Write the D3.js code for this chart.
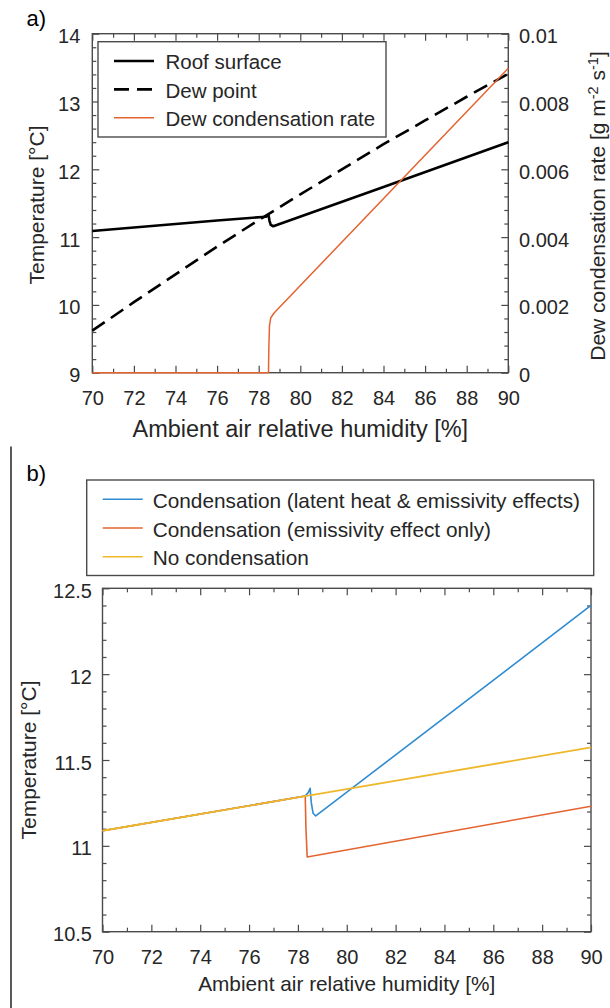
<!DOCTYPE html>
<html><head><meta charset="utf-8">
<script src="https://cdn.jsdelivr.net/npm/d3@7"></script>
<style>body{margin:0;background:#fff}svg{display:block}</style>
</head><body>
<script>
// ---------- data ----------
const rhTicks = [70,72,74,76,78,80,82,84,86,88,90];
const rhMinor = [71,73,75,77,79,81,83,85,87,89];
const tempTicksA = [9,10,11,12,13,14];
const tempMinorA = [9.2,9.4,9.6,9.8,10.2,10.4,10.6,10.8,11.2,11.4,11.6,11.8,12.2,12.4,12.6,12.8,13.2,13.4,13.6,13.8];
const rateTicks = [0,0.002,0.004,0.006,0.008,0.01];
const rateTickLabels = ["0","0.002","0.004","0.006","0.008","0.01"];
const rateMinor = [0.0004,0.0008,0.0012,0.0016,0.0024,0.0028,0.0032,0.0036,0.0044,0.0048,0.0052,0.0056,0.0064,0.0068,0.0072,0.0076,0.0084,0.0088,0.0092,0.0096];
const tempTicksB = [10.5,11,11.5,12,12.5];
const tempTickLabelsB = ["10.5","11","11.5","12","12.5"];
const tempMinorB = [10.6,10.7,10.8,10.9,11.1,11.2,11.3,11.4,11.6,11.7,11.8,11.9,12.1,12.2,12.3,12.4];

// panel a
const roofRH = [70, 76, 78.35, 78.47, 78.52, 78.58, 78.7, 84, 90];
const roofT  = [11.09, 11.245, 11.30, 11.33, 11.24, 11.18, 11.16, 11.74, 12.40];
const dewRH  = [70, 72, 74, 76, 78, 80, 82, 84, 86, 88, 90];
const dewT   = [9.62, 10.04, 10.45, 10.86, 11.25, 11.63, 12.00, 12.37, 12.72, 13.07, 13.41];
const rateRH = [70, 78.47, 78.49, 78.52, 78.58, 78.75, 90];
const rateV  = [0, 0, 0.0008, 0.0014, 0.00162, 0.00177, 0.00898];
const legendA = ["Roof surface", "Dew point", "Dew condensation rate"];

// panel b
const latentRH = [70, 78.3, 78.42, 78.5, 78.55, 78.62, 78.73, 90];
const latentT  = [11.088, 11.29, 11.31, 11.335, 11.25, 11.19, 11.174, 12.40];
const emisRH   = [70, 78.3, 78.33, 78.38, 90];
const emisT    = [11.088, 11.29, 11.10, 10.935, 11.231];
const noCondRH = [70, 90];
const noCondT  = [11.088, 11.573];
const legendB = ["Condensation (latent heat & emissivity effects)", "Condensation (emissivity effect only)", "No condensation"];

// ---------- styles ----------
const FONT = "'Liberation Sans', Arial, Helvetica, sans-serif";
const TXT = "#262626";
const AX = "#4a4a4a";
const BLUE = "#2f8cd0", ORANGE = "#e4642f", YELLOW = "#efb72c";

const svg = d3.select("body").append("svg").attr("width", 610).attr("height", 1008)
  .style("font-family", FONT);

function styleAxis(g, labelSize, ydy) {
  g.select(".domain").remove();
  g.selectAll(".tick line").attr("stroke", AX).attr("stroke-width", 1.2);
  g.selectAll("text").attr("fill", TXT).style("font-size", labelSize + "px").style("font-family", FONT);
  if (ydy) g.selectAll("text").attr("dy", ydy);
  g.attr("font-size", null).attr("font-family", null);
}

function frame(x, y, yRight, opt) {
  const [x0, x1] = x.range(); const [y0, y1] = y.range(); // y0 bottom, y1 top
  const g = svg.append("g");
  // bottom
  g.append("g").attr("transform", `translate(0,${y0})`)
    .call(d3.axisBottom(x).tickValues(rhTicks).tickSizeInner(-7).tickSizeOuter(0).tickPadding(18).tickFormat(d3.format("d")))
    .call(s => styleAxis(s, 20));
  g.append("g").attr("transform", `translate(0,${y0})`)
    .call(d3.axisBottom(x).tickValues(rhMinor).tickSizeInner(-4).tickSizeOuter(0).tickFormat(""))
    .call(s => styleAxis(s, 20));
  // top
  g.append("g").attr("transform", `translate(0,${y1})`)
    .call(d3.axisTop(x).tickValues(rhTicks).tickSizeInner(-7).tickSizeOuter(0).tickFormat(""))
    .call(s => styleAxis(s, 20));
  g.append("g").attr("transform", `translate(0,${y1})`)
    .call(d3.axisTop(x).tickValues(rhMinor).tickSizeInner(-4).tickSizeOuter(0).tickFormat(""))
    .call(s => styleAxis(s, 20));
  // left
  g.append("g").attr("transform", `translate(${x0},0)`)
    .call(d3.axisLeft(y).tickValues(opt.yTicks).tickSizeInner(-7).tickSizeOuter(0).tickPadding(opt.leftPad).tickFormat((d,i)=>opt.yLabels[i]))
    .call(s => styleAxis(s, 20, "0.45em"));
  g.append("g").attr("transform", `translate(${x0},0)`)
    .call(d3.axisLeft(y).tickValues(opt.yMinor).tickSizeInner(-4).tickSizeOuter(0).tickFormat(""))
    .call(s => styleAxis(s, 20));
  // right
  const yr = yRight || y;
  g.append("g").attr("transform", `translate(${x1},0)`)
    .call(d3.axisRight(yr).tickValues(opt.rTicks).tickSizeInner(-7).tickSizeOuter(0).tickPadding(10.7)
      .tickFormat(opt.rLabels ? ((d,i)=>opt.rLabels[i]) : ""))
    .call(s => styleAxis(s, 20, "0.45em"));
  g.append("g").attr("transform", `translate(${x1},0)`)
    .call(d3.axisRight(yr).tickValues(opt.rMinor).tickSizeInner(-4).tickSizeOuter(0).tickFormat(""))
    .call(s => styleAxis(s, 20));
  g.append("rect").attr("x", x0).attr("y", y1).attr("width", x1 - x0).attr("height", y0 - y1)
    .attr("fill", "none").attr("stroke", AX).attr("stroke-width", 1.4);
}

function drawLine(xs, ys, x, y, color, width, dash) {
  const line = d3.line().x(d => x(d[0])).y(d => y(d[1]));
  const p = svg.append("path").datum(d3.zip(xs, ys)).attr("d", line)
    .attr("fill", "none").attr("stroke", color).attr("stroke-width", width)
    .attr("stroke-linejoin", "round");
  if (dash) p.attr("stroke-dasharray", dash);
}

// ---------- panel a ----------
const xA = d3.scaleLinear([70, 90], [92.3, 508.3]);
const yA = d3.scaleLinear([9, 14], [372.7, 33.7]);
const yR = d3.scaleLinear([0, 0.01], [372.7, 33.7]);

frame(xA, yA, yR, {yTicks: tempTicksA, yLabels: tempTicksA.map(String), yMinor: tempMinorA, leftPad: 12,
  rTicks: rateTicks, rLabels: rateTickLabels, rMinor: rateMinor});

drawLine(dewRH, dewT, xA, yA, "#000", 2.6, "15 7.5");
drawLine(roofRH, roofT, xA, yA, "#000", 2.6);
drawLine(rateRH, rateV, xA, yR, ORANGE, 1.5);

// legend a
const la = svg.append("g");
la.append("rect").attr("x", 98).attr("y", 41.7).attr("width", 288).attr("height", 95.3)
  .attr("fill", "#fff").attr("stroke", AX).attr("stroke-width", 1.4);
const laStyle = [{c: "#000", w: 2.6, d: null}, {c: "#000", w: 2.6, d: "15 8"}, {c: ORANGE, w: 1.6, d: null}];
legendA.forEach((t, i) => {
  const yy = 61 + i * 28.4;
  const l = la.append("line").attr("x1", 114).attr("x2", 154).attr("y1", yy).attr("y2", yy)
    .attr("stroke", laStyle[i].c).attr("stroke-width", laStyle[i].w);
  if (laStyle[i].d) l.attr("stroke-dasharray", laStyle[i].d);
  la.append("text").attr("x", 165.5).attr("y", yy + 8.3).text(t)
    .style("font-size", "20.5px").attr("fill", TXT);
});

// titles a
svg.append("text").attr("x", 300.3).attr("y", 437).attr("text-anchor", "middle")
  .style("font-size", "23.5px").attr("fill", TXT).text("Ambient air relative humidity [%]");
svg.append("text").attr("transform", "translate(44,205) rotate(-90)").attr("text-anchor", "middle")
  .style("font-size", "21px").attr("fill", TXT).text("Temperature [°C]");
const rt = svg.append("text").attr("transform", "translate(605,206) rotate(-90)").attr("text-anchor", "middle")
  .style("font-size", "21px").attr("fill", TXT);
rt.append("tspan").text("Dew condensation rate [g m");
rt.append("tspan").attr("dy", -7).style("font-size", "14.5px").text("-2");
rt.append("tspan").attr("dy", 7).text(" s");
rt.append("tspan").attr("dy", -7).style("font-size", "14.5px").text("-1");
rt.append("tspan").attr("dy", 7).text("]");

svg.append("text").attr("x", 26.5).attr("y", 25.5).style("font-size", "22px").attr("fill", "#000").text("a)");

// ---------- panel b ----------
svg.append("line").attr("x1", 11).attr("x2", 11).attr("y1", 446.5).attr("y2", 1008)
  .attr("stroke", "#000").attr("stroke-width", 1.3);
svg.append("text").attr("x", 26.5).attr("y", 480.5).style("font-size", "22px").attr("fill", "#000").text("b)");

const xB = d3.scaleLinear([70, 90], [102.5, 591]);
const yB = d3.scaleLinear([10.5, 12.5], [931.7, 588.3]);

frame(xB, yB, null, {yTicks: tempTicksB, yLabels: tempTickLabelsB, yMinor: tempMinorB, leftPad: 10.5,
  rTicks: tempTicksB, rLabels: null, rMinor: tempMinorB});

drawLine(latentRH, latentT, xB, yB, BLUE, 1.6);
drawLine(emisRH, emisT, xB, yB, ORANGE, 1.6);
drawLine(noCondRH, noCondT, xB, yB, YELLOW, 1.8);

// legend b
const lb = svg.append("g");
lb.append("rect").attr("x", 86.7).attr("y", 480).attr("width", 507).attr("height", 95.5)
  .attr("fill", "#fff").attr("stroke", AX).attr("stroke-width", 1.4);
const lbCols = [BLUE, ORANGE, YELLOW];
legendB.forEach((t, i) => {
  const yy = 499.3 + i * 28.7;
  lb.append("line").attr("x1", 102.7).attr("x2", 142.7).attr("y1", yy).attr("y2", yy)
    .attr("stroke", lbCols[i]).attr("stroke-width", 1.6);
  lb.append("text").attr("x", 152.7).attr("y", yy + 8.5).text(t)
    .style("font-size", "20.8px").attr("fill", TXT);
});

svg.append("text").attr("x", 346.7).attr("y", 991).attr("text-anchor", "middle")
  .style("font-size", "20.8px").attr("fill", TXT).text("Ambient air relative humidity [%]");
svg.append("text").attr("transform", "translate(35.5,760) rotate(-90)").attr("text-anchor", "middle")
  .style("font-size", "21px").attr("fill", TXT).text("Temperature [°C]");
</script>
</body></html>
